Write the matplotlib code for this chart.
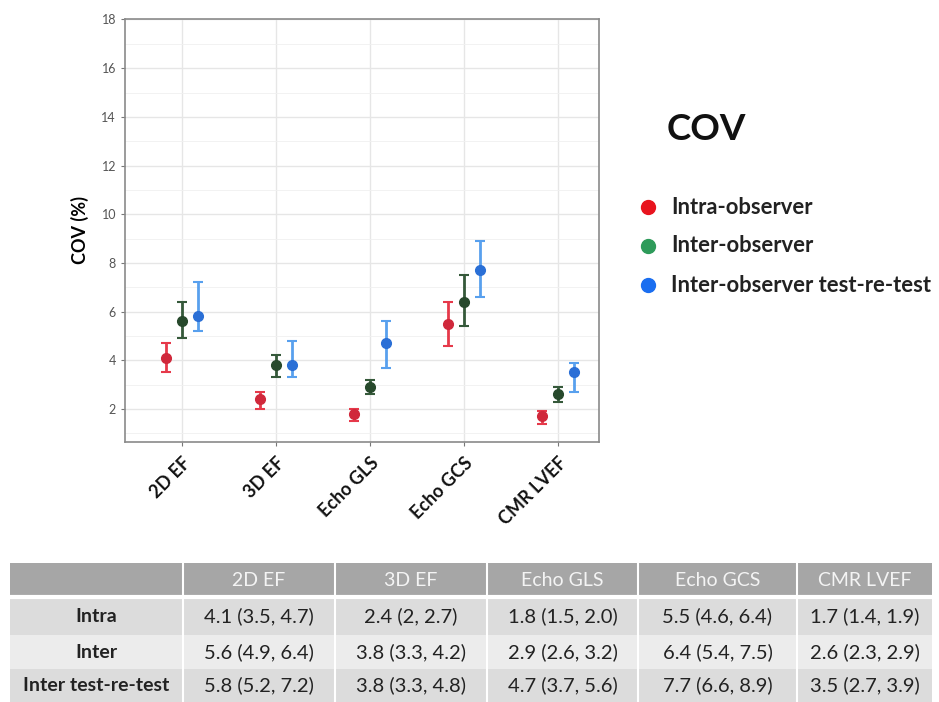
import matplotlib
matplotlib.use("Agg")
import matplotlib.pyplot as plt
from matplotlib.patches import Rectangle
from matplotlib.ticker import MultipleLocator

# ---------------- data ----------------
categories = ["2D EF", "3D EF", "Echo GLS", "Echo GCS", "CMR LVEF"]
series_names = ["Intra-observer", "Inter-observer", "Inter-observer test-re-test"]
table_row_names = ["Intra", "Inter", "Inter test-re-test"]

intra_val = [4.1, 2.4, 1.8, 5.5, 1.7]
intra_lo = [3.5, 2, 1.5, 4.6, 1.4]
intra_hi = [4.7, 2.7, 2.0, 6.4, 1.9]

inter_val = [5.6, 3.8, 2.9, 6.4, 2.6]
inter_lo = [4.9, 3.3, 2.6, 5.4, 2.3]
inter_hi = [6.4, 4.2, 3.2, 7.5, 2.9]

test_val = [5.8, 3.8, 4.7, 7.7, 3.5]
test_lo = [5.2, 3.3, 3.7, 6.6, 2.7]
test_hi = [7.2, 4.8, 5.6, 8.9, 3.9]

y_ticks = [2, 4, 6, 8, 10, 12, 14, 16, 18]

# ---------------- styles ----------------
FONT = "Lato"
err_colors = ["#e6394a", "#35593a", "#58a0ee"]
pt_colors = ["#d0283b", "#27492c", "#2a6fd6"]
leg_colors = ["#e8141e", "#2e9b5a", "#1a6ef0"]
offsets = [-0.17, 0.0, 0.17]

W, H = 939, 702
fig = plt.figure(figsize=(W / 100, H / 100), dpi=100)
fig.patch.set_facecolor("white")

# ---------------- chart ----------------
ax = fig.add_axes([125 / W, (H - 442) / H, (599 - 125) / W, (442 - 19) / H])
xs = list(range(1, len(categories) + 1))
series = [
    (intra_val, intra_lo, intra_hi),
    (inter_val, inter_lo, inter_hi),
    (test_val, test_lo, test_hi),
]
for i, (vals, lo, hi) in enumerate(series):
    xpos = [x + offsets[i] for x in xs]
    yerr = [[v - l for v, l in zip(vals, lo)], [h - v for v, h in zip(vals, hi)]]
    ax.errorbar(xpos, vals, yerr=yerr, fmt="none", ecolor=err_colors[i],
                elinewidth=2.0, capsize=3.5, capthick=1.5, zorder=3)
    ax.plot(xpos, vals, "o", color=pt_colors[i], markersize=7, zorder=4)

ax.set_xlim(0.39, 5.44)
ax.set_ylim(0.64, 18.02)
ax.set_xticks(xs)
ax.set_xticklabels(categories, rotation=45, ha="right", va="top",
                   rotation_mode="anchor", fontsize=13, fontweight="bold",
                   family=FONT, color="#111111")
ax.set_yticks(y_ticks)
ax.set_yticklabels([str(t) for t in y_ticks], fontsize=9, color="#555555", family=FONT)
ax.yaxis.set_minor_locator(MultipleLocator(1))
ax.tick_params(axis="both", which="major", length=3, color="#777777", width=0.8)
ax.tick_params(axis="x", pad=6)
ax.tick_params(axis="y", which="minor", length=0)
ax.grid(True, which="major", color="#e6e6e6", linewidth=1.0)
ax.grid(True, which="minor", axis="y", color="#f0f0f0", linewidth=0.6)
ax.set_axisbelow(True)
for s in ax.spines.values():
    s.set_color("#8a8a8a")
    s.set_linewidth(1.2)
ax.set_ylabel("COV (%)", fontsize=13, fontweight="bold", family=FONT, labelpad=9)

# ---------------- legend & table overlay (pixel coordinates) ----------------
ov = fig.add_axes([0, 0, 1, 1], zorder=5)
ov.set_xlim(0, W)
ov.set_ylim(H, 0)
ov.axis("off")
ov.patch.set_alpha(0)

ov.text(667, 130, "COV", fontsize=26.5, fontweight="bold", family=FONT,
        color="#111111", va="center", ha="left")
leg_y = [207, 246, 285]
for name, col, y in zip(series_names, leg_colors, leg_y):
    ov.plot([648], [y], "o", color=col, markersize=10)
    ov.text(671, y, name, fontsize=15.8, fontweight="bold", family=FONT,
            color="#222222", va="center", ha="left")

# table
col_edges = [10, 183, 335, 487, 638, 797, 932]
row_edges = [563, 597, 635, 669, 702]
row_fills = ["#a6a6a6", "#dcdcdc", "#ececec", "#dcdcdc"]
for r in range(4):
    y0, y1 = row_edges[r], row_edges[r + 1]
    ov.add_patch(Rectangle((col_edges[0], y0), col_edges[-1] - col_edges[0], y1 - y0,
                           facecolor=row_fills[r], edgecolor="none", zorder=1))
for xe in col_edges[1:-1]:
    ov.plot([xe, xe], [row_edges[0], row_edges[-1]], color="white", lw=1.5, zorder=2)
ov.plot([col_edges[0], col_edges[-1]], [row_edges[1], row_edges[1]], color="white", lw=3, zorder=2)

def cx(c):
    return (col_edges[c] + col_edges[c + 1]) / 2

def cy(r):
    return (row_edges[r] + row_edges[r + 1]) / 2

for j, cat in enumerate(categories):
    ov.text(cx(j + 1), cy(0), cat, fontsize=14, family=FONT, color="#f4f4f4",
            ha="center", va="center", zorder=3)

for r, (name, (vals, lo, hi)) in enumerate(zip(table_row_names, series)):
    ov.text(cx(0), cy(r + 1), name, fontsize=14, fontweight="bold", family=FONT,
            color="#222222", ha="center", va="center", zorder=3)
    for j in range(len(categories)):
        s = f"{vals[j]} ({lo[j]}, {hi[j]})"
        ov.text(cx(j + 1), cy(r + 1), s, fontsize=14.5, family=FONT,
                color="#222222", ha="center", va="center", zorder=3)

fig.savefig("out.png", dpi=100, facecolor="white")
